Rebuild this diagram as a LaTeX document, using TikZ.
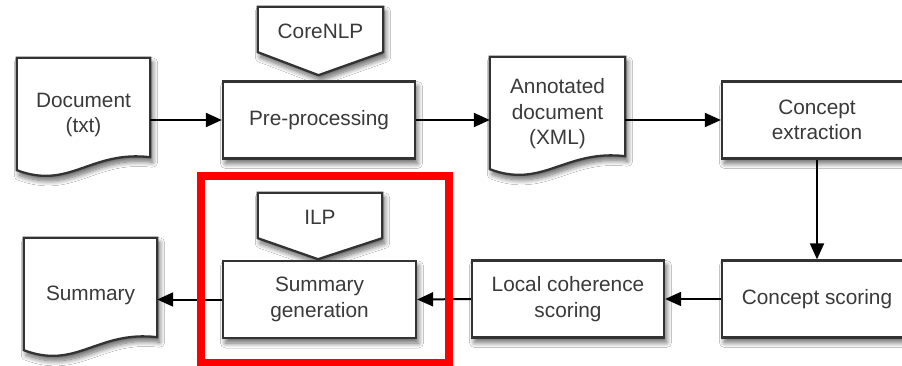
\documentclass[tikz,border=0pt]{standalone}
\usepackage{fontspec}
\setmainfont{Liberation Sans}
\usetikzlibrary{arrows.meta,calc,shadows.blur}

\definecolor{edge}{HTML}{333333}
\definecolor{ink}{HTML}{3A3A3A}
\definecolor{hilite}{HTML}{FF0000}

\tikzset{
  label text/.style={font=\fontsize{20.8}{25.5}\selectfont, text=ink, align=center},
  soft/.style={blur shadow={shadow xshift=2.5pt, shadow yshift=-5pt,
      shadow blur radius=5pt, shadow blur steps=10, shadow opacity=60}},
  procbox/.style={label text, draw=edge, line width=2.3pt, fill=white,
      minimum width=192pt, minimum height=77pt, inner sep=0pt, soft},
  docbody/.style={minimum width=133pt, minimum height=114pt, inner sep=0pt},
  tagbody/.style={minimum width=125pt, minimum height=45pt, inner sep=0pt},
  outline/.style={draw=edge, line width=2.3pt, fill=white, line join=miter, soft},
  flow/.style={draw=black, line width=2pt, -{Triangle[length=16pt,width=14pt]}},
}

% document symbol with a wavy lower edge, drawn around a named body node
\newcommand{\docoutline}[1]{%
  \draw[outline] (#1.north west) -- (#1.north east)
    -- ($(#1.south east)+(0,-15)$)
    .. controls ($(#1.south east)+(-60,-22)$) and ($(#1.south west)+(53,18)$)
    .. ($(#1.south west)+(0,-2)$) -- cycle;}

% input tag: box with a pointed lower edge
\newcommand{\tagoutline}[2]{%
  \draw[outline] (#1.north west) -- (#1.north east) -- (#1.south east)
    -- ($(#1.south)+(-2,#2)$) -- (#1.south west) -- cycle;}

\begin{document}
\begin{tikzpicture}[x=1pt,y=-1pt]
  \useasboundingbox (0,0) rectangle (902,366);
  \fill[white] (0,0) rectangle (902,366);
  \clip (0,0) rectangle (902,366);

  % upper row
  \path node[docbody] (doc1) at (83.5,115) {};
  \docoutline{doc1}
  \node[label text] (doc1t) at (doc1) {Document\\(txt)};

  \path node[tagbody] (tag1) at (320.5,29.5) {};
  \tagoutline{tag1}{23}
  \node[label text] (tag1t) at ($(tag1)+(0,2)$) {CoreNLP};

  \node[procbox] (pre) at (319,120) {Pre-processing};

  \path node[docbody, minimum width=135pt] (doc2) at (557.5,114) {};
  \docoutline{doc2}
  \node[label text] (doc2t) at (doc2) {Annotated\\document\\(XML)};

  \node[procbox, minimum width=190pt] (cex) at (817,120) {Concept\\extraction};

  % lower row
  \node[procbox, minimum width=190pt] (csc) at (817,299) {Concept scoring};
  \node[procbox] (lcs) at (568,299) {Local coherence\\scoring};

  \path node[tagbody, minimum width=124pt] (tag2) at (320,215.5) {};
  \tagoutline{tag2}{21}
  \node[label text] (tag2t) at ($(tag2)+(0,1.5)$) {ILP};

  \node[procbox, minimum width=193pt] (sgen) at (319.5,299.5) {Summary\\generation};

  \path node[docbody] (doc3) at (90.5,295) {};
  \docoutline{doc3}
  \node[label text] (doc3t) at (doc3) {Summary};

  % connectors
  \draw[flow] (doc1.east |- pre.west) -- (pre.west);
  \draw[flow] (pre.east) -- (doc2.west |- pre.east);
  \draw[flow] (doc2.east |- cex.west) -- (cex.west);
  \draw[flow] (cex.south) -- (csc.north);
  \draw[flow] (csc.west) -- (lcs.east);
  \draw[flow] (lcs.west) -- (sgen.east);
  \draw[flow] (sgen.west) -- (doc3.east |- sgen.west);

  % highlight frame
  \node[draw=hilite, line width=7.5pt, minimum width=248pt, minimum height=187pt,
        inner sep=0pt] (focus) at (325,269.5) {};
\end{tikzpicture}
\end{document}
